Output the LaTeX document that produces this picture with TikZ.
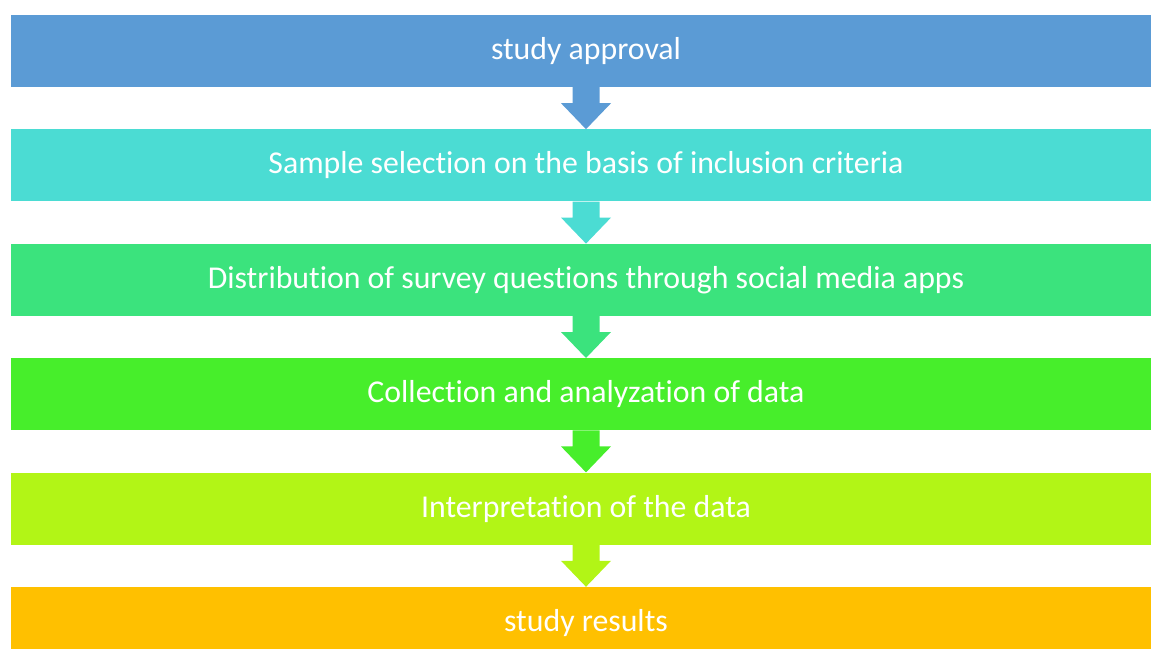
\documentclass[tikz,border=0pt]{standalone}
\usepackage{fontspec}
\setmainfont{Carlito}[Ligatures=NoCommon]
\usetikzlibrary{positioning}
\definecolor{boxblue}{HTML}{5B9BD5}
\definecolor{boxcyan}{HTML}{4BDCD3}
\definecolor{boxteal}{HTML}{3BE37D}
\definecolor{boxgreen}{HTML}{47EE2B}
\definecolor{boxlime}{HTML}{B2F516}
\definecolor{boxgold}{HTML}{FFC000}
\tikzset{
    mybox/.style = {rectangle, draw=none, fill=#1, minimum width=1150pt, minimum height=72pt, inner sep=0pt, align=center, text=white, font=\fontsize{31.8}{36}\selectfont},
    downarrow/.style = {fill=#1, draw=none}
}

\begin{document}
\begin{tikzpicture}[x=1pt, y=1pt, node distance=42pt]
  \useasboundingbox (0,0) rectangle (1151,-648);
  \clip (0,0) rectangle (1151,-648);
  \node[mybox=boxblue] (approval) at (586,-51) {study approval};
  \node[mybox=boxcyan, below=of approval] (sample) {Sample selection on the basis of inclusion criteria};
  \node[mybox=boxteal, below=of sample] (survey) {Distribution of survey questions through social media apps};
  \node[mybox=boxgreen, below=of survey] (collect) {Collection and analyzation of data};
  \node[mybox=boxlime, below=of collect] (interpret) {Interpretation of the data};
  \node[mybox=boxgold, below=of interpret] (results) {study results};
  % block arrows between the steps
  \foreach \from/\to/\col in {approval/sample/boxblue, sample/survey/boxcyan, survey/collect/boxteal,
                              collect/interpret/boxgreen, interpret/results/boxlime}
    \fill[downarrow=\col] (\to.north) -- ++(-25,26) -- ++(11.5,0) -- ([xshift=-13.5pt]\from.south)
      -- ([xshift=13.5pt]\from.south) -- ++(0,-16) -- ++(11.5,0) -- cycle;
\end{tikzpicture}
\end{document}
